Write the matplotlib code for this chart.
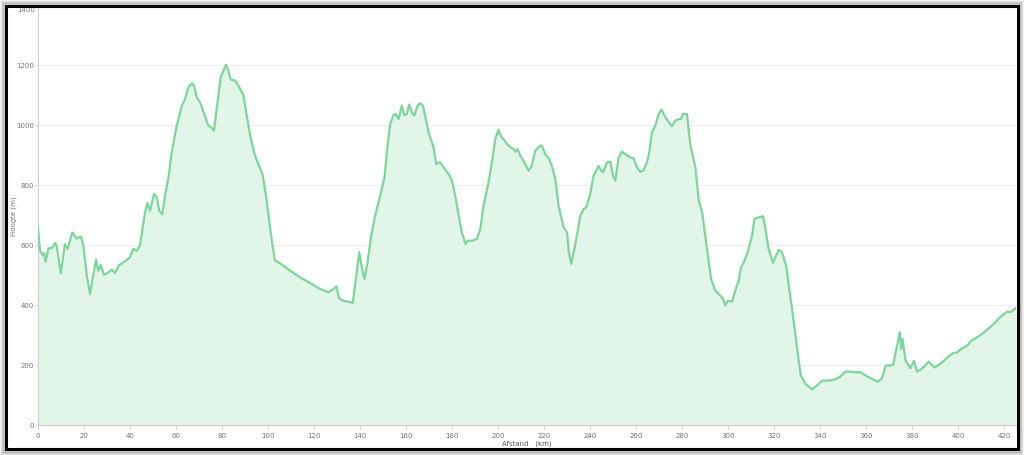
import matplotlib
matplotlib.use("Agg")
import matplotlib.pyplot as plt
from matplotlib.patches import Rectangle

# ---- data (distance in km, elevation in m) ----
distance_km = [
    0, 0.9, 2, 2.6, 3.3, 4.5, 6, 7.4, 8.1, 9.9, 11.7, 12.9, 14.9, 16.8, 18.6, 19.7,
    21.2, 22.6, 25.2, 26.2, 27.3, 28.7, 30.6, 32, 33.5, 35.3, 38.6, 40, 41.4, 42.9,
    44.3, 46.5, 47.5, 48.7, 50.4, 51.6, 52.7, 54, 55.2, 56.7, 58.1, 60.3, 62.5, 63.9,
    65.4, 66.8, 67.8, 69, 70.4, 72.2, 74, 75.5, 76.5, 78, 79.4, 80.6, 81.7, 82.7,
    83.8, 85.7, 87.1, 89.3, 90, 92.2, 94.3, 96.5, 97.7, 99.4, 100.9, 102.1, 103,
    104.5, 106.7, 109.6, 113.9, 118.3, 121.9, 126.2, 128.4, 129.6, 130.9, 132.7,
    134.9, 136.8, 138.3, 139.6, 140.7, 141.9, 143.2, 144.7, 146.5, 148.7, 150.6,
    151.6, 153, 154.5, 155.5, 156.7, 158.1, 159.1, 160.3, 161.3, 162.5, 163.5,
    164.9, 166.1, 167.3, 168.7, 169.7, 170.7, 171.9, 173, 174.8, 176.2, 178.4,
    179.9, 181.3, 182.7, 184.2, 185.8, 186.7, 188.6, 190.7, 192.2, 193.6, 195.8,
    197.5, 198.7, 200.1, 201.2, 202.3, 203.8, 205.2, 206.7, 207.4, 208.4, 209.6,
    211.7, 213.2, 214.6, 216.1, 218.3, 219, 220.4, 221.9, 223.3, 224.8, 226.2,
    228.4, 229.9, 230.6, 231.7, 233.5, 235.7, 237.1, 238.3, 240, 241.4, 243.6,
    244.3, 245.5, 247.3, 248.7, 249.9, 250.9, 252.3, 253.8, 255.2, 257.4, 258.8,
    260.3, 261.7, 263.2, 264.6, 265.5, 266.8, 268.3, 269.7, 271, 272.6, 274,
    275.5, 276.9, 278.4, 279.4, 280.3, 282, 283.5, 285.7, 287.1, 288.6, 290.7,
    292.5, 294.3, 296.5, 297.7, 298.7, 299.7, 301.6, 303, 304.5, 305.5, 306.7,
    308.4, 310.3, 311.3, 313.2, 315.1, 316.1, 317.5, 319.4, 320.4, 321.9, 323.3,
    325.1, 326.9, 328.5, 330, 331.4, 333.5, 336.4, 338.6, 340.7, 343.5, 346.5,
    348.7, 350.9, 353, 354.5, 357.4, 360.3, 363.2, 364.9, 366.8, 368.3, 370.4,
    371.6, 373, 374.5, 375.1, 375.7, 377, 378.4, 379.1, 380.6, 382, 383.5, 385.7,
    387.1, 388.1, 389.6, 391.4, 393.6, 395.8, 397.7, 399.4, 401.6, 403.8, 405.5,
    407.4, 409.6, 412.5, 415.4, 417.6, 419.8, 421.2, 422.6, 425,
]
elevation_m = [
    656, 581, 567, 573, 544, 589, 590, 606, 598, 505, 603, 587, 642, 622, 629, 598,
    498, 437, 551, 514, 533, 500, 509, 518, 507, 533, 550, 560, 587, 581,
    598, 709, 740, 714, 770, 760, 714, 703, 764, 825, 909, 998, 1064, 1087,
    1126, 1139, 1131, 1092, 1076, 1037, 998, 990, 981, 1076, 1159, 1181, 1201, 1181,
    1151, 1148, 1131, 1098, 1064, 964, 898, 856, 831, 748, 653, 590, 548,
    542, 531, 514, 492, 473, 456, 442, 453, 462, 422, 414,
    411, 407, 498, 576, 526, 487, 542, 626, 698, 764, 826,
    909, 1003, 1033, 1037, 1020, 1064, 1033, 1037, 1068, 1042, 1031,
    1064, 1073, 1064, 1014, 976, 953, 926, 870, 876, 859, 837,
    814, 764, 703, 642, 603, 614, 614, 620, 653, 731, 809,
    887, 953, 984, 962, 953, 937, 926, 920, 911, 920, 898,
    870, 848, 864, 914, 931, 931, 903, 890, 864, 820, 731,
    659, 642, 581, 537, 603, 698, 720, 726, 770, 831, 864,
    853, 842, 876, 878, 831, 814, 892, 911, 903, 892, 889,
    859, 844, 849, 876, 903, 976, 998, 1037, 1051, 1026, 1011,
    996, 1014, 1020, 1020, 1037, 1037, 931, 859, 748, 709, 587,
    487, 448, 431, 420, 398, 414, 411, 448, 481, 526, 542,
    576, 631, 687, 692, 696, 653, 587, 540, 559, 584, 576,
    531, 431, 340, 248, 167, 137, 119, 132, 148, 148, 152,
    162, 178, 178, 176, 176, 162, 151, 144, 156, 198, 198,
    201, 253, 309, 253, 287, 214, 198, 189, 214, 178, 184, 200,
    211, 203, 192, 200, 214, 229, 240, 242, 256, 264, 281,
    289, 300, 318, 337, 356, 370, 378, 376, 390,
]
x_ticks = list(range(0, 421, 20))
y_ticks = list(range(0, 1401, 200))

W, H = 1024, 456
fig = plt.figure(figsize=(W / 100, H / 100), dpi=100)
fig.patch.set_facecolor("white")

# axes placement in pixels
left_px, right_px, top_px, bottom_px = 38, 1016, 6, 426
ax = fig.add_axes([left_px / W, 1 - bottom_px / H,
                   (right_px - left_px) / W, (bottom_px - top_px) / H])

line_color = "#7dd69b"
fill_color = "#e2f5e9"
ax.fill_between(distance_km, elevation_m, 0, color=fill_color, linewidth=0, zorder=1)
ax.plot(distance_km, elevation_m, color=line_color, linewidth=1.6, zorder=3,
        solid_joinstyle="round")

ax.set_xlim(0, 425)
ax.set_ylim(0, 1400)
ax.set_xticks(x_ticks)
ax.set_yticks(y_ticks)
# top label is nudged down (as in the original, where it would otherwise be clipped)
ax.set_yticklabels([str(v) if v != y_ticks[-1] else "" for v in y_ticks])
ax.annotate(str(y_ticks[-1]), xy=(0, y_ticks[-1]), xytext=(-2.2, -3.2),
            textcoords="offset points", ha="right", va="center",
            fontsize=5, color="#777777", annotation_clip=False)
ax.grid(axis="y", color="#efefef", linewidth=0.8, zorder=0)
ax.set_axisbelow(True)

for s in ["top", "right"]:
    ax.spines[s].set_visible(False)
ax.spines["left"].set_color("#d0d0d0")
ax.spines["bottom"].set_color("#cfcfcf")
ax.spines["left"].set_linewidth(0.8)
ax.spines["bottom"].set_linewidth(0.8)

ax.tick_params(axis="x", colors="#cccccc", labelcolor="#777777", labelsize=5,
               length=3, width=0.6, pad=2)
ax.tick_params(axis="y", colors="#cccccc", labelcolor="#777777", labelsize=5,
               length=2, width=0.6, pad=1)

ax.set_xlabel("Afstand   (km)", fontsize=5, color="#555555", labelpad=1)
ax.set_ylabel("Hoogte (m)", fontsize=5, color="#777777")
ax.yaxis.set_label_coords(-21 / (right_px - left_px), 0.5)

# shadow + black frame around the chart
for i, a in enumerate([0.06, 0.08, 0.10, 0.13]):
    off = 4 - i
    fig.add_artist(Rectangle(((5 - off) / W, (H - 451 - off) / H),
                             (1013 + 2 * off) / W, (445 + 2 * off) / H,
                             transform=fig.transFigure, fill=False,
                             edgecolor=(0, 0, 0, a), linewidth=2, zorder=9))
fig.add_artist(Rectangle((5.5 / W, (H - 450) / H), 1012 / W, 443.5 / H,
                         transform=fig.transFigure, fill=False,
                         edgecolor="black", linewidth=2.2, zorder=10))

fig.savefig("out.png", dpi=100, facecolor="white")
